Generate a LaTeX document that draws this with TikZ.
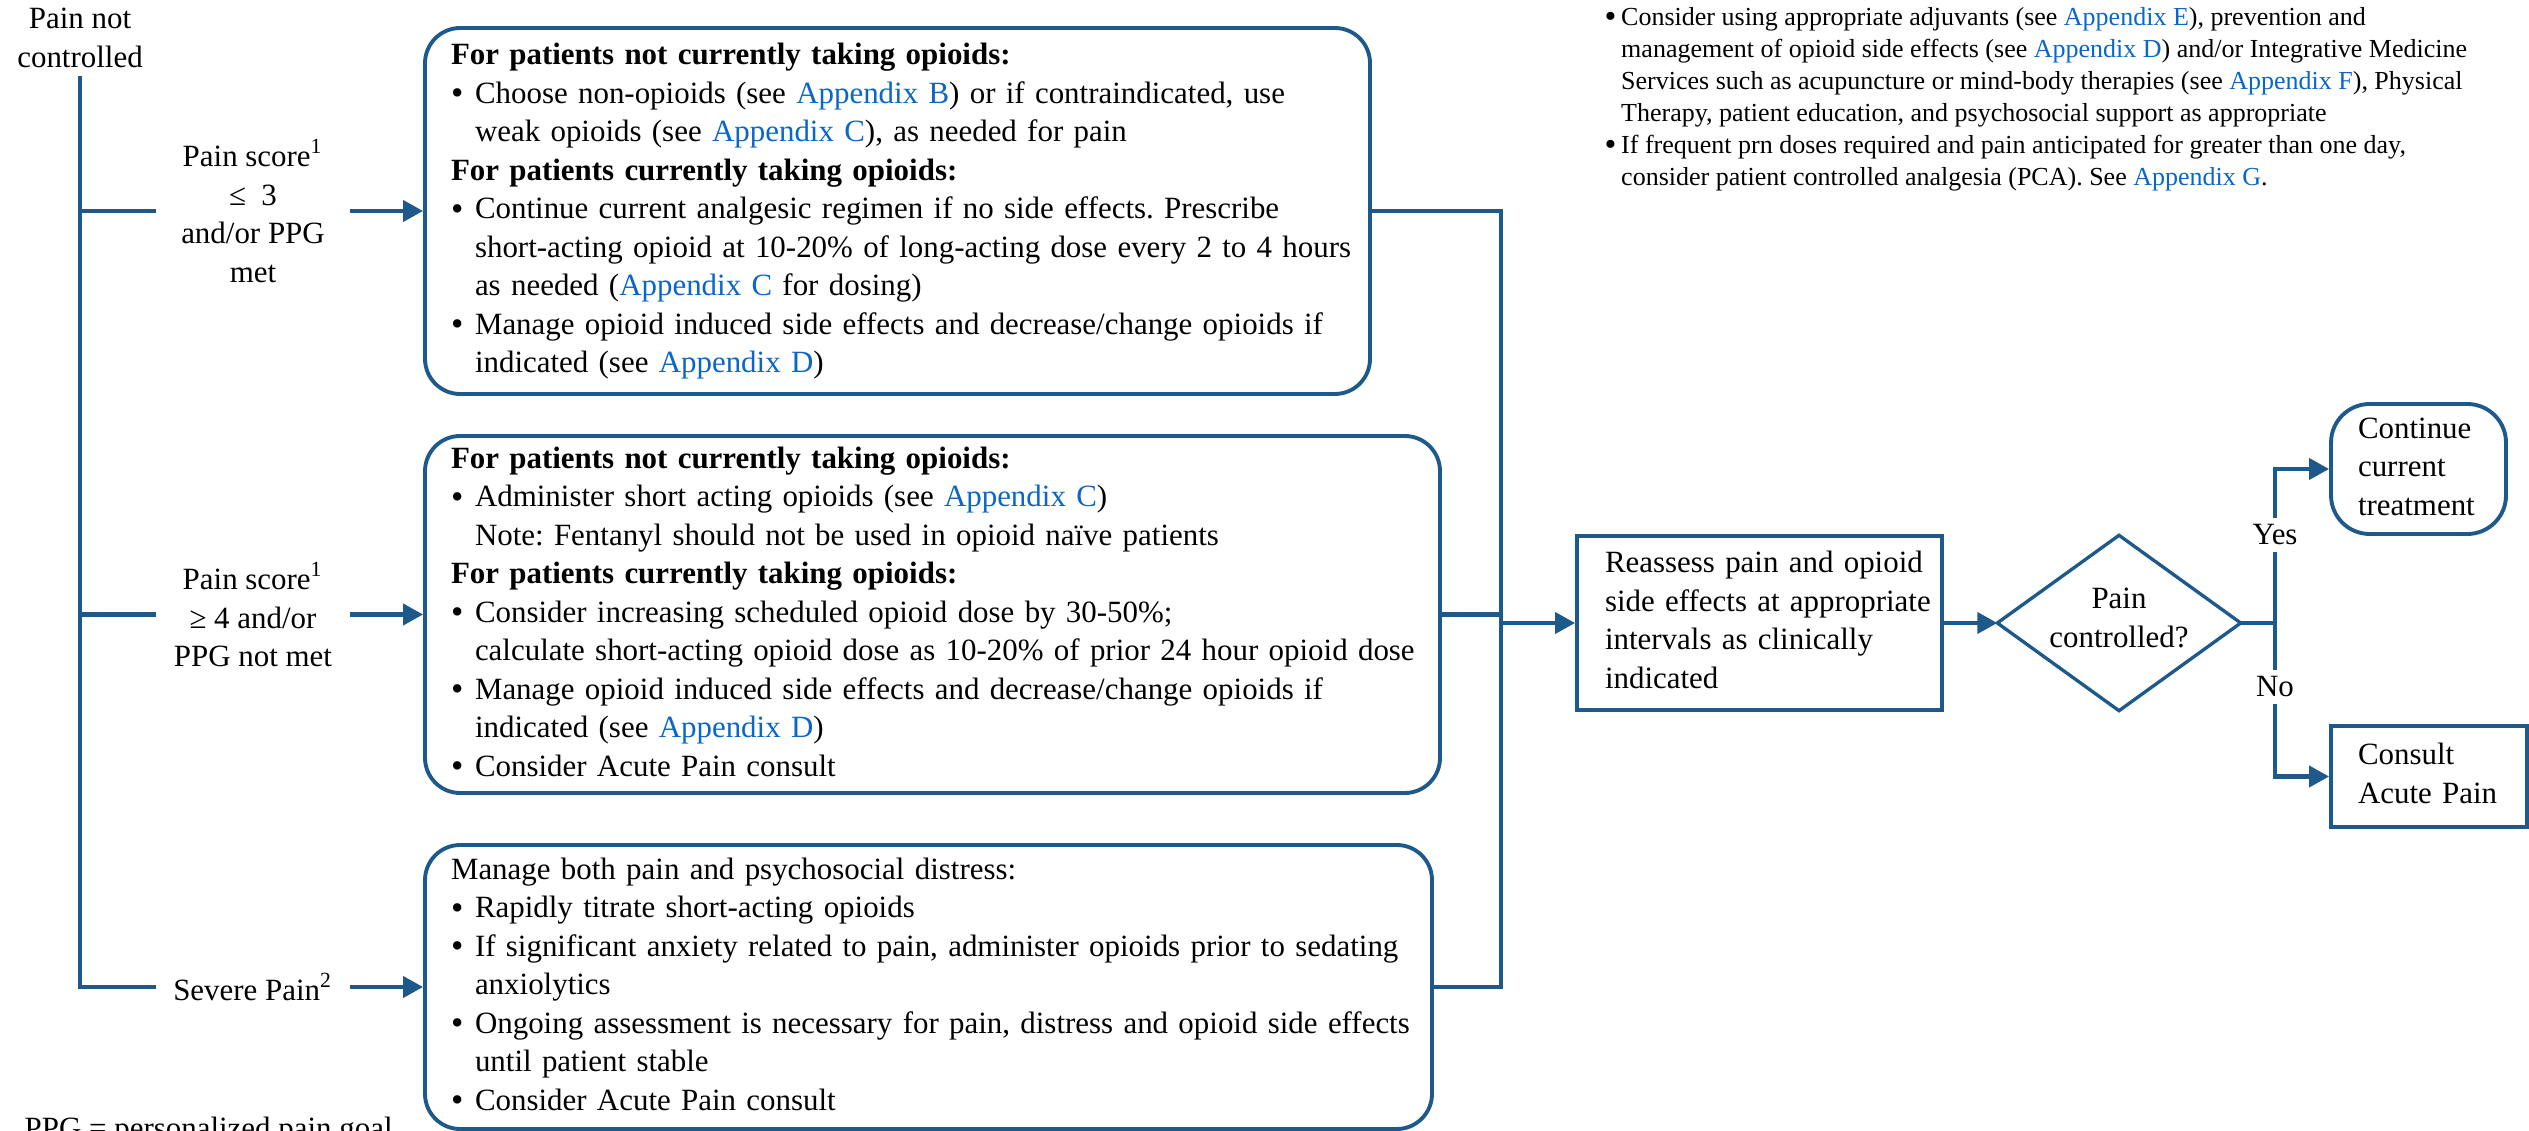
\documentclass[tikz,border=0pt]{standalone}
\usepackage{fontspec}
\setmainfont{Liberation Serif}
\usetikzlibrary{arrows.meta,calc}
\frenchspacing
\definecolor{lineblue}{RGB}{30,89,140}
\definecolor{linkblue}{RGB}{10,102,200}
\newcommand{\mainfs}{\fontsize{8.8}{10.95}\selectfont}
\newcommand{\smallfs}{\fontsize{7.4}{9.1}\selectfont}
\newcommand{\bl}{\makebox[2.4mm][l]{\raisebox{-0.4pt}{\fontsize{10}{10}\selectfont\textbullet}}}
\newcommand{\ind}{\hspace*{2.4mm}}
\newcommand{\sbl}{\makebox[1.65mm][l]{\raisebox{-0.6pt}{\fontsize{9.6}{9}\selectfont\textbullet}}}
\newcommand{\sind}{\hspace*{1.65mm}}
\newcommand{\app}[1]{\textcolor{linkblue}{#1}}
\newcommand{\tl}[1]{\begin{tabular}{@{}l@{}}#1\end{tabular}}
\tikzset{
  conn/.style={draw=lineblue, line width=1.15pt},
  arr/.style={conn, -{Triangle[length=2mm,width=2.1mm]}},
  rbox/.style={draw=lineblue, line width=1.1pt, rounded corners=10pt, align=left, inner ysep=0pt, font=\mainfs},
  sbox/.style={draw=lineblue, line width=1.1pt, align=left, inner ysep=0pt, font=\mainfs},
  lbl/.style={font=\mainfs, align=center, inner sep=0pt, minimum width=19.2mm},
  yn/.style={font=\mainfs, fill=white, inner xsep=1pt, inner ysep=2pt},
}
\begin{document}
\begin{tikzpicture}[x=0.1mm, y=-0.1mm]
\useasboundingbox (0,0) rectangle (2529,1131);
\fill[white] (0,0) rectangle (2529,1131);

% left side
\node[font=\mainfs, align=center, inner sep=0pt] (top) at (80,38) {Pain not\\controlled};
\coordinate (trunk) at (80,76);
\node[lbl] (l1) at (253,211) {Pain score\textsuperscript{1}\\≤\ \ 3\\and/or PPG\\met};
\node[lbl] (l2) at (253,614.5) {Pain score\textsuperscript{1}\\≥ 4 and/or\\PPG not met};
\node[lbl] (l3) at (253,987) {Severe Pain\textsuperscript{2}};

% treatment boxes
\node[rbox, minimum width=94.5mm, minimum height=36.6mm, inner xsep=2.6mm, text width=89.3mm] (b1) at (897.5,211) {\tl{%
\textbf{For patients not currently taking opioids:}\\
\bl Choose non-opioids (see \app{Appendix B}) or if contraindicated, use\\
\ind weak opioids (see \app{Appendix C}), as needed for pain\\
\textbf{For patients currently taking opioids:}\\
\bl Continue current analgesic regimen if no side effects. Prescribe\\
\ind short-acting opioid at 10-20\% of long-acting dose every 2 to 4 hours\\
\ind as needed (\app{Appendix C} for dosing)\\
\bl Manage opioid induced side effects and decrease/change opioids if\\
\ind indicated (see \app{Appendix D})}};

\node[rbox, minimum width=101.5mm, minimum height=35.7mm, inner xsep=2.6mm, text width=96.3mm] (b2) at (932.5,614.5) {\tl{%
\textbf{For patients not currently taking opioids:}\\
\bl Administer short acting opioids (see \app{Appendix C})\\
\ind Note: Fentanyl should not be used in opioid naïve patients\\
\textbf{For patients currently taking opioids:}\\
\bl Consider increasing scheduled opioid dose by 30-50\%;\\
\ind calculate short-acting opioid dose as 10-20\% of prior 24 hour opioid dose\\
\bl Manage opioid induced side effects and decrease/change opioids if\\
\ind indicated (see \app{Appendix D})\\
\bl Consider Acute Pain consult}};

\node[rbox, minimum width=100.7mm, minimum height=28.4mm, inner xsep=2.6mm, text width=95.5mm] (b3) at (928.5,987) {\tl{%
Manage both pain and psychosocial distress:\\
\bl Rapidly titrate short-acting opioids\\
\bl If significant anxiety related to pain, administer opioids prior to sedating\\
\ind anxiolytics\\
\bl Ongoing assessment is necessary for pain, distress and opioid side effects\\
\ind until patient stable\\
\bl Consider Acute Pain consult}};

% reassess box, decision, outcomes
\node[sbox, minimum width=36.5mm, minimum height=17.4mm, inner xsep=2.8mm, text width=30.9mm] (b4) at (1759.5,623) {\tl{Reassess pain and opioid\\side effects at appropriate\\intervals as clinically\\indicated}};
\node[inner sep=0pt, minimum width=24.2mm, minimum height=17.4mm] (dia) at (2119,623) {};
\draw[draw=lineblue, line width=0.95pt] (dia.west) -- (dia.north) -- (dia.east) -- (dia.south) -- cycle;
\node[font=\mainfs, align=center, inner sep=0pt] (diat) at (2119,618) {Pain\\controlled?};
\node[rbox, rounded corners=11pt, minimum width=17.5mm, minimum height=13mm, inner xsep=2.7mm, text width=12.1mm] (cont) at (2418.5,469) {\tl{Continue\\current\\treatment}};
\node[sbox, minimum width=19.6mm, minimum height=10.1mm, inner xsep=2.7mm, text width=14.2mm] (cons) at (2429,776.5) {\tl{Consult\\Acute Pain}};

% notes
\node[anchor=north west, align=left, font=\smallfs, inner sep=0pt] (notes) at (1604,7) {%
\sbl Consider using appropriate adjuvants (see \app{Appendix E}), prevention and\\
\sind management of opioid side effects (see \app{Appendix D}) and/or Integrative Medicine\\
\sind Services such as acupuncture or mind-body therapies (see \app{Appendix F}), Physical\\
\sind Therapy, patient education, and psychosocial support as appropriate\\
\sbl If frequent prn doses required and pain anticipated for greater than one day,\\
\sind consider patient controlled analgesia (PCA). See \app{Appendix G}.};
\node[font=\mainfs, anchor=base west, inner sep=0pt] (ppg) at (24,1138) {PPG = personalized pain goal};

% connectors, left
\draw[conn] (trunk) |- (l3.west);
\draw[conn] (l1.west -| trunk) -- (l1.west);
\draw[conn] (l2.west -| trunk) -- (l2.west);
\draw[arr] (l1.east) -- (b1.west);
\draw[arr] (l2.east) -- (b2.west);
\draw[arr] (l3.east) -- (b3.west);

% connectors, merge
\coordinate (mT) at (1501,211);
\coordinate (mB) at (1501,987);
\coordinate (mM) at (1501,623);
\draw[conn] (b1.east) -- (mT) -- (mB) -- (b3.east);
\draw[conn] (b2.east) -- (b2.east -| mT);
\draw[arr] (mM) -- (b4.west);
\draw[arr] (b4.east) -- (dia.west);

% decision
\coordinate (split) at (2275,623);
\draw[conn] (dia.east) -- (split);
\draw[arr] (split) |- (cont.west);
\draw[arr] (split) |- (cons.west);
\node[yn] (yes) at (2275,535) {Yes};
\node[yn] (no) at (2275,687) {No};
\end{tikzpicture}
\end{document}
